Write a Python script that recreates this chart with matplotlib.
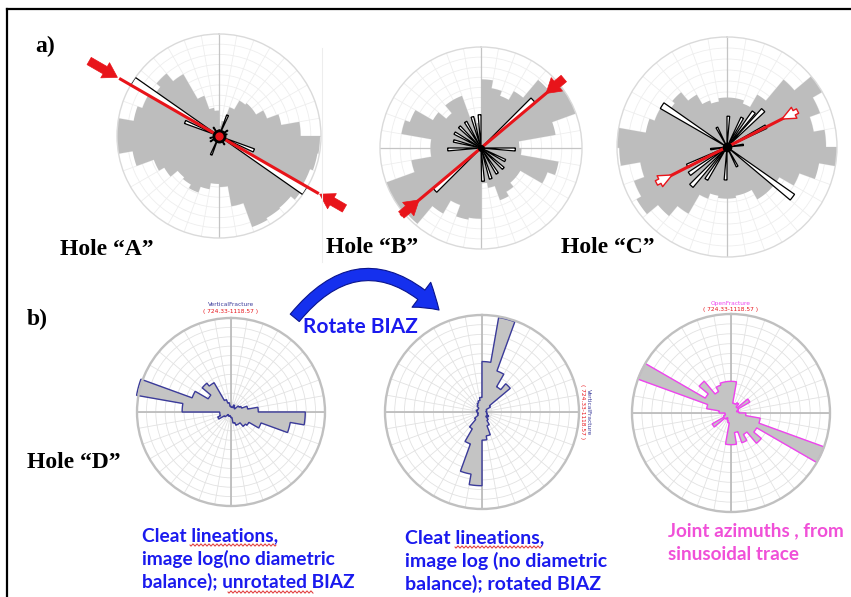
import numpy as np
import matplotlib
matplotlib.use("Agg")
import matplotlib.pyplot as plt
from matplotlib.patches import FancyArrowPatch

W, H, DPI = 851, 597, 100

# ---------------------------------------------------------------------------
# Rose data: 10-degree bins, azimuth clockwise from north, bin starts 0..350.
# Values are normalised petal lengths (1.0 = outer rim).
# ---------------------------------------------------------------------------
BIN10 = np.arange(0, 360, 10)

hole_a_fractures = [0.10, 0.15, 0.30, 0.40, 0.42, 0.42, 0.50, 0.62, 0.80,
                    0.99, 0.98, 0.95, 0.97, 0.92, 0.93, 0.95, 0.70, 0.50,
                    0.47, 0.53, 0.59, 0.55, 0.53, 0.62, 0.68, 0.86, 1.00,
                    1.00, 0.85, 0.80, 0.75, 0.80, 0.70, 0.42, 0.28, 0.25]

hole_b_fractures = [0.68, 0.60, 0.55, 0.65, 0.88, 1.00, 1.00, 0.75, 0.38,
                    0.40, 0.78, 0.70, 0.45, 0.45, 0.50, 0.55, 0.40, 0.35,
                    0.70, 0.72, 0.60, 0.75, 0.98, 1.00, 1.00, 0.70, 0.50,
                    0.50, 0.80, 0.75, 0.55, 0.45, 0.55, 0.55, 0.30, 0.25]

hole_c_fractures = [0.45, 0.45, 0.42, 0.55, 0.80, 1.00, 0.90, 0.80, 0.90,
                    1.00, 0.85, 0.70, 0.55, 0.55, 0.55, 0.45, 0.45, 0.47,
                    0.47, 0.45, 0.50, 0.70, 0.82, 0.95, 0.90, 0.80, 0.98,
                    1.00, 0.75, 0.70, 0.62, 0.65, 0.55, 0.45, 0.42, 0.45]

# Open (outlined) petals: 5-degree bins given by centre azimuth
hole_a_open_az = [302.5, 122.5, 292.5, 112.5, 22.5, 202.5, 57.5, 237.5,
                  77.5, 257.5, 2.5, 182.5, 327.5, 147.5]
hole_a_open_r = [1.00, 1.00, 0.36, 0.37, 0.22, 0.20, 0.10, 0.10,
                 0.08, 0.09, 0.06, 0.06, 0.10, 0.10]

hole_b_open_az = [47.5, 227.5, 92.5, 267.5, 284.5, 299.5, 314.5, 329.5,
                  344.5, 357.5, 117.5, 132.5, 147.5, 162.5, 176.5]
hole_b_open_r = [0.70, 0.62, 0.34, 0.33, 0.28, 0.30, 0.30, 0.30,
                 0.32, 0.33, 0.27, 0.30, 0.30, 0.32, 0.33]

hole_c_open_az = [302.5, 127.5, 27.5, 37.5, 44.5, 62.5, 212.5, 222.5,
                  234.5, 244.5, 2.5, 182.5, 82.5, 262.5, 152.5, 332.5]
hole_c_open_r = [0.70, 0.75, 0.30, 0.40, 0.47, 0.40, 0.35, 0.48,
                 0.42, 0.40, 0.28, 0.30, 0.15, 0.15, 0.20, 0.20]

# Maximum horizontal stress azimuth per hole
shmax_a, shmax_b, shmax_c = 120.0, 50.0, 63.0

# Hole D roses
hole_d_unrotated = [0.05, 0.05, 0.08, 0.06, 0.05, 0.10, 0.12, 0.18, 0.29,
                    0.79, 0.64, 0.34, 0.22, 0.20, 0.15, 0.15, 0.12, 0.06,
                    0.05, 0.04, 0.05, 0.05, 0.04, 0.08, 0.15, 0.12, 0.12,
                    0.52, 1.02, 0.44, 0.28, 0.40, 0.36, 0.14, 0.10, 0.06]

hole_d_rotated = [0.52, 0.99, 0.45, 0.30, 0.38, 0.10, 0.05, 0.05, 0.04,
                  0.05, 0.05, 0.06, 0.08, 0.06, 0.10, 0.15, 0.25, 0.29,
                  0.76, 0.65, 0.35, 0.20, 0.10, 0.05, 0.05, 0.04, 0.05,
                  0.05, 0.06, 0.05, 0.05, 0.05, 0.08, 0.10, 0.12, 0.15]

hole_d_joints = [0.32, 0.10, 0.10, 0.12, 0.08, 0.22, 0.08, 0.06, 0.08,
                 0.15, 0.30, 1.00, 0.30, 0.40, 0.25, 0.32, 0.20, 0.32,
                 0.32, 0.10, 0.08, 0.06, 0.08, 0.22, 0.08, 0.06, 0.06,
                 0.12, 0.25, 1.00, 0.30, 0.42, 0.25, 0.30, 0.32, 0.32]

depth_label = "( 724.33-1118.57 )"

# ---------------------------------------------------------------------------
fig = plt.figure(figsize=(W / DPI, H / DPI), dpi=DPI)
fig.patch.set_facecolor("white")


def polar_at(cx, cy, R):
    return fig.add_axes([(cx - R) / W, (H - cy - R) / H, 2 * R / W, 2 * R / H],
                        projection="polar")


def style_polar(ax, spoke, ring, rim, rim_lw, axis_col, axis_lw):
    ax.set_theta_zero_location("N")
    ax.set_theta_direction(-1)
    ax.set_ylim(0, 1)
    ax.set_xticks(np.deg2rad(np.arange(0, 360, 10)))
    ax.set_yticks(np.arange(0.1, 1.0, 0.1))
    ax.set_xticklabels([])
    ax.set_yticklabels([])
    ax.tick_params(length=0)
    ax.set_axisbelow(True)
    ax.xaxis.grid(True, color=spoke, lw=0.6)
    ax.yaxis.grid(True, color=ring, lw=0.6)
    ax.spines["polar"].set_color(rim)
    ax.spines["polar"].set_linewidth(rim_lw)
    for a in (0, 90):
        ax.plot(np.deg2rad([a, a, a + 180, a + 180]), [1, 0, 0, 1],
                color=axis_col, lw=axis_lw, zorder=0.8)


def rose_outline(values, width=10, steps=8):
    th, rr = [], []
    for i, v in enumerate(values):
        a = np.linspace(i * width, (i + 1) * width, steps)
        th.extend(np.deg2rad(a))
        rr.extend([v] * steps)
    return th, rr


def open_petals(ax, az, r):
    ax.bar(np.deg2rad(az), r, width=np.deg2rad(5), bottom=0,
           facecolor="white", edgecolor="black", lw=0.9, zorder=3)


def red_axis(ax, az, r):
    t1, t2 = np.deg2rad(az), np.deg2rad(az + 180)
    ax.plot([t1, t1, t2, t2], [r, 0, 0, r], color="#e8141a", lw=2.2,
            zorder=5, clip_on=False, solid_capstyle="butt")


def push_arrow(ax, az, r_from, r_to, hollow=False, scale=12):
    style = ("simple,head_width=0.8,head_length=0.9,tail_width=0.32" if hollow
             else "simple,head_width=1.05,head_length=0.85,tail_width=0.5")
    ax.annotate("", xy=(np.deg2rad(az), r_to), xytext=(np.deg2rad(az), r_from),
                annotation_clip=False, zorder=6,
                arrowprops=dict(arrowstyle=style, mutation_scale=scale,
                                fc="white" if hollow else "#e8141a",
                                ec="#e8141a", lw=1.0 if hollow else 0.5,
                                shrinkA=0, shrinkB=0))


GREY_A = "#bdbdbd"

# ----- panel a ---------------------------------------------------------------
panel_a = [(219, 136, 102, hole_a_fractures, hole_a_open_az, hole_a_open_r),
           (481, 148, 101, hole_b_fractures, hole_b_open_az, hole_b_open_r),
           (727, 147, 110, hole_c_fractures, hole_c_open_az, hole_c_open_r)]
axes_a = []
for cx, cy, R, fr, oaz, orr in panel_a:
    ax = polar_at(cx, cy, R)
    style_polar(ax, "#eeeeee", "#eeeeee", "#dadada", 1.0, "#c4c4c4", 0.9)
    th, rr = rose_outline(fr)
    ax.fill(th, rr, color=GREY_A, lw=0, zorder=2, clip_on=False)
    open_petals(ax, oaz, orr)
    axes_a.append(ax)

ax_a, ax_b, ax_c = axes_a
# Hole A: SHmax line extends beyond the rim, solid arrows outside
red_axis(ax_a, shmax_a - 180, 1.13)
ax_a.plot([0], [0], "o", ms=9, color="black", zorder=6)
ax_a.plot([0], [0], "o", ms=5, color="#e8141a", zorder=7)
push_arrow(ax_a, shmax_a + 180, 1.47, 1.15)
push_arrow(ax_a, shmax_a, 1.42, 1.14)

# Hole B: line across the rose with arrows on the rim
red_axis(ax_b, shmax_b, 1.04)
ax_b.plot([0], [0], "o", ms=4, color="black", zorder=6)
push_arrow(ax_b, shmax_b, 1.07, 0.84)
push_arrow(ax_b, shmax_b + 180, 1.03, 0.80)

# Hole C: shorter line with hollow arrows
red_axis(ax_c, shmax_c, 0.60)
ax_c.plot([0], [0], "o", ms=6, color="black", zorder=6)
push_arrow(ax_c, shmax_c, 0.72, 0.56, hollow=True, scale=11)
push_arrow(ax_c, shmax_c + 180, 0.72, 0.56, hollow=True, scale=11)

# ----- panel b ---------------------------------------------------------------
panel_b = [(231, 412, 94, hole_d_unrotated, "#3b3b9a"),
           (482, 412, 97, hole_d_rotated, "#3b3b9a"),
           (731, 413, 99, hole_d_joints, "#ee44ee")]
for cx, cy, R, vals, edge in panel_b:
    ax = polar_at(cx, cy, R)
    style_polar(ax, "#e2e2e2", "#e2e2e2", "#c0c0c0", 1.7, "#bdbdbd", 1.3)
    th, rr = rose_outline(vals)
    ax.fill(th, rr, facecolor="#c4c4c4", edgecolor=edge, lw=1.0, zorder=2,
            clip_on=False)

# ----- annotation layer (pixel coordinates) ---------------------------------
ov = fig.add_axes([0, 0, 1, 1])
ov.set_xlim(0, W)
ov.set_ylim(H, 0)
ov.axis("off")

ov.plot([7, W], [9, 9], color="black", lw=1.6, clip_on=False)
ov.plot([7, 7], [9, H], color="black", lw=1.6, clip_on=False)
ov.plot([322, 322], [48, 262], color="#ededed", lw=0.8)

serif = dict(family="Liberation Serif", fontweight="bold", fontsize=17,
             color="black")
ov.text(35, 52, "a)", va="baseline", ha="left", **serif)
ov.text(27, 325, "b)", va="baseline", ha="left", **serif)
ov.text(60, 255, "Hole \u201cA\u201d", va="baseline", ha="left", **serif)
ov.text(326, 253, "Hole \u201cB\u201d", va="baseline", ha="left", **serif)
ov.text(561, 253, "Hole \u201cC\u201d", va="baseline", ha="left", **serif)
ov.text(27, 468, "Hole \u201cD\u201d", va="baseline", ha="left", **serif)

# rose headers
tiny = dict(family="DejaVu Sans", fontsize=4.2, ha="center", va="center")
ov.text(231, 305, "VerticalFracture", color="#3b3b9a", **tiny)
ov.text(231, 311, depth_label, color="#e8141a", **tiny)
ov.text(731, 304, "OpenFracture", color="#ee44ee", **tiny)
ov.text(731, 310, depth_label, color="#e8141a", **tiny)
ov.text(588, 412, "VerticalFracture", color="#3b3b9a", rotation=270, **tiny)
ov.text(583, 412, depth_label, color="#e8141a", rotation=270, **tiny)

# rotation arrow
arc = FancyArrowPatch((293, 320), (441, 312),
                      connectionstyle="arc3,rad=-0.56",
                      arrowstyle="simple,head_width=1.6,head_length=1.2,tail_width=0.6",
                      mutation_scale=14, fc="#1530ee", ec="#0a148c", lw=0.8,
                      zorder=5)
ov.add_patch(arc)

blue = "#1a1aee"
ov.text(303, 333, "Rotate BIAZ", color=blue, va="baseline", ha="left",
        family="Lato", fontweight="bold", fontsize=15)

left_lines = ["Cleat lineations,", "image log(no diametric",
              "balance); unrotated BIAZ"]
mid_lines = ["Cleat lineations,", "image log (no diametric",
             "balance); rotated BIAZ"]
joint_lines = ["Joint azimuths , from", "sinusoidal trace"]
for i, s in enumerate(left_lines):
    ov.text(142, 541.5 + 23.3 * i, s, color=blue, va="baseline", ha="left",
            family="Lato", fontweight="bold", fontsize=13.8)
for i, s in enumerate(mid_lines):
    ov.text(405, 543.5 + 23.3 * i, s, color=blue, va="baseline", ha="left",
            family="Lato", fontweight="bold", fontsize=14)
for i, s in enumerate(joint_lines):
    ov.text(668, 536 + 23.5 * i, s, color="#f050d8", va="baseline", ha="left",
            family="Lato", fontweight="bold", fontsize=13.6)

# spell-check squiggles
for x0, x1, y0 in [(190, 276, 545), (228, 313, 592), (455, 542, 547)]:
    xs = np.linspace(x0, x1, 120)
    ov.plot(xs, y0 + 1.1 * np.sin(2 * np.pi * (xs - x0) / 4.0),
            color="#e03030", lw=0.7)

fig.savefig("out.png", dpi=DPI, facecolor="white")
